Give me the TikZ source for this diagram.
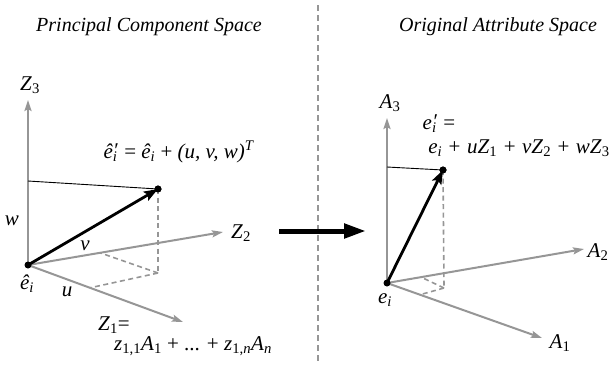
\documentclass[tikz,border=0pt]{standalone}
\usepackage{fontspec}
\setmainfont{Liberation Serif}
\usetikzlibrary{arrows.meta}
\definecolor{axgray}{RGB}{150,150,150}
\newcommand\mi[1]{\textit{#1}}
\newcommand\sbs[1]{\textsubscript{#1}}
\newcommand\ehat{\mi{ê}}
\newcommand\pl{\hspace{6.5pt}+\hspace{6.5pt}}
\begin{document}
\begin{tikzpicture}[x=1pt,y=-1pt,
  font=\fontsize{20}{24}\selectfont,
  axis/.style={draw=axgray, line width=2pt, -{Stealth[length=11pt,width=7pt,inset=2pt]}},
  vec/.style={draw=black, line width=2.8pt, -{Stealth[length=14pt,width=10pt,inset=2.5pt]}},
  proj/.style={draw=axgray, line width=1.6pt, dash pattern=on 5pt off 3.5pt},
  lvl/.style={draw=black, line width=0.9pt},
  divider/.style={draw=axgray, line width=1.6pt, dash pattern=on 6pt off 4pt},
  bigarrow/.style={draw=black, line width=5pt, -{Triangle[length=22pt,width=14pt]}},
  dotn/.style={circle, fill=black, inner sep=0pt, minimum size=7pt},
  lbl/.style={inner sep=0pt, font=\fontsize{21}{25}\selectfont}]
\useasboundingbox (0,0) rectangle (613,368);
% titles
\node[inner sep=0pt] (t1) at (149,27) {\mi{Principal Component Space}};
\node[inner sep=0pt] (t2) at (498,27) {\mi{Original Attribute Space}};
% divider
\coordinate (dt) at (318,5);
\coordinate (db) at (318,362);
\draw[divider] (dt) -- (db);
% ---------- left panel
\coordinate (O1) at (28,265);
\coordinate (Z3t) at (28,100);
\coordinate (Z2t) at (223,232);
\coordinate (Z1t) at (183,322);
\coordinate (L1) at (28,181);
\coordinate (F1) at (158,273);
\coordinate (U1) at (90,287.8);
\coordinate (V1) at (100,252.8);
\node[dotn] (p1) at (158,189) {};
\draw[axis] (O1) -- (Z3t);
\draw[axis] (O1) -- (Z2t);
\draw[axis] (O1) -- (Z1t);
\draw[proj] (p1.center) -- (F1);
\draw[proj] (F1) -- (U1);
\draw[proj] (F1) -- (V1);
\draw[lvl] (L1) -- (p1.center);
\node[dotn] (o1) at (O1) {};
\draw[vec] (o1.center) -- (p1.center);
\node[dotn] at (p1) {};
\node[lbl] (z3l) at (30,85) {\mi{Z}\sbs{3}};
\node[lbl] (z2l) at (241,233) {\mi{Z}\sbs{2}};
\node[lbl] (z1l) at (114,325) {\mi{Z}\sbs{1}=};
\node[lbl] (z1d) at (193,346) {\mi{z}\sbs{1,1}\mi{A}\sbs{1} + ... + \mi{z}\sbs{1,\mi{n}}\mi{A}\sbs{\mi{n}}};
\node[lbl] (p1l) at (179,152) {\ehat\sbs{\mi{i}}\kern-3pt\raisebox{1pt}{′} = \ehat\sbs{\mi{i}} + \mi{(u, v, w)}\textsuperscript{\mi{T}}};
\node[lbl] (wl) at (12,221) {\mi{w}};
\node[lbl] (vl) at (85,246) {\mi{v}};
\node[lbl] (ul) at (67,292) {\mi{u}};
\node[lbl] (el1) at (27,284) {\ehat\sbs{\mi{i}}};
% arrow between panels
\coordinate (bs) at (279,231);
\coordinate (be) at (366,231);
\draw[bigarrow] (bs) -- (be);
% ---------- right panel
\coordinate (O2) at (387,283);
\coordinate (A3t) at (387,118);
\coordinate (A2t) at (584,249);
\coordinate (A1t) at (542,338);
\coordinate (L2) at (387,167);
\coordinate (F2) at (444,288);
\coordinate (U2) at (420,294.7);
\coordinate (V2) at (421,277.1);
\node[dotn] (p2) at (443,170) {};
\draw[axis] (O2) -- (A3t);
\draw[axis] (O2) -- (A2t);
\draw[axis] (O2) -- (A1t);
\draw[proj] (p2.center) -- (F2);
\draw[proj] (F2) -- (U2);
\draw[proj] (F2) -- (V2);
\draw[lvl] (L2) -- (p2.center);
\node[dotn] (o2) at (O2) {};
\draw[vec] (o2.center) -- (p2.center);
\node[dotn] at (p2) {};
\node[lbl] (a3l) at (390,103) {\mi{A}\sbs{3}};
\node[lbl] (a2l) at (598,252) {\mi{A}\sbs{2}};
\node[lbl] (a1l) at (560,343) {\mi{A}\sbs{1}};
\node[lbl] (el2) at (385,300) {\mi{e}\sbs{\mi{i}}};
\node[lbl] (p2a) at (439,124) {\mi{e}\sbs{\mi{i}}\kern-3pt\raisebox{1pt}{′} =};
\node[lbl] (p2b) at (519,148) {\mi{e}\sbs{\mi{i}}\pl\mi{u}\mi{Z}\sbs{1}\pl\mi{v}\mi{Z}\sbs{2}\pl\mi{w}\mi{Z}\sbs{3}};
\end{tikzpicture}
\end{document}
